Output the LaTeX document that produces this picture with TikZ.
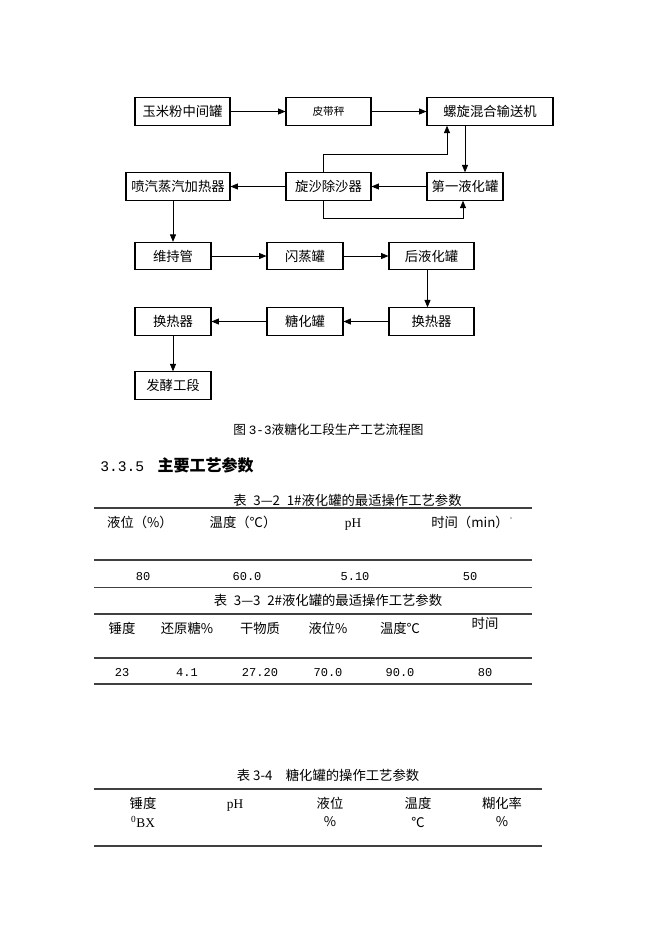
\documentclass[tikz,border=0pt]{standalone}
\usepackage{fontspec}
\setmainfont{Noto Sans CJK SC}
\newfontfamily\monofont{Liberation Mono}
\newfontfamily\seriffont{Liberation Serif}
\usetikzlibrary{arrows.meta,calc}
\begin{document}
\begin{tikzpicture}[x=0.75pt,y=-0.75pt,
	box/.style={draw,line width=0.8pt,minimum height=20.5pt,inner sep=0pt,font=\fontsize{10}{12}\selectfont},
	arr/.style={line width=0.6pt,-{Triangle[length=5.5pt,width=4.5pt]}},
	rule/.style={line width=0.9pt,black!75},
	cell/.style={inner sep=0pt,font=\fontsize{10}{12}\selectfont},
	num/.style={inner sep=0pt,font=\monofont\fontsize{9}{11}\selectfont}]
	\useasboundingbox (0,0) rectangle (662,936);
		\node[box,minimum width=71.25pt] (F11) at (182.5,111.5) {玉米粉中间罐};
		\node[box,minimum width=63.75pt,font=\fontsize{8}{10}\selectfont] (F12) at (328.5,111.5) {皮带秤};
		\node[box,minimum width=94.5pt] (F13) at (490,111.5) {螺旋混合输送机};
		\node[box,minimum width=78pt] (F21) at (178,186.5) {喷汽蒸汽加热器};
		\node[box,minimum width=63.75pt] (F22) at (328.5,186.5) {旋沙除沙器};
		\node[box,minimum width=57pt] (F23) at (465,186.5) {第一液化罐};
		\node[box,minimum width=57pt] (F31) at (173,256) {维持管};
		\node[box,minimum width=57pt] (F32) at (305,256) {闪蒸罐};
		\node[box,minimum width=63.75pt] (F33) at (431.5,256) {后液化罐};
		\node[box,minimum width=57pt] (F41) at (173,321.5) {换热器};
		\node[box,minimum width=57pt] (F42) at (305,321.5) {糖化罐};
		\node[box,minimum width=63.75pt] (F43) at (431.5,321.5) {换热器};
		\node[box,minimum width=57pt] (F51) at (173,385.5) {发酵工段};
		\draw[arr] (F11) -- (F12);
		\draw[arr] (F12) -- (F13);
		\draw[arr] (F23.north |- F13.south) -- (F23.north);
		\draw[arr] (F23) -- (F22);
		\draw[arr] (F22) -- (F21);
		\draw[arr] ($(F22.north)+(-5,0)$) -- ++(0,-18) -| ($(F13.south)+(-43,0)$);
		\draw[arr] ($(F22.south)+(-5,0)$) -- ++(0,18) -| ($(F23.south)+(-2,0)$);
		\draw[arr] (F31.north |- F21.south) -- (F31.north);
		\draw[arr] (F31) -- (F32);
		\draw[arr] (F32) -- (F33);
		\draw[arr] ($(F33.south)+(-4,0)$) -- ($(F43.north)+(-4,0)$);
		\draw[arr] (F43) -- (F42);
		\draw[arr] (F42) -- (F41);
		\draw[arr] (F41) -- (F51);
		\node[inner sep=0pt,font=\fontsize{9.5}{11}\selectfont] (cap1) at (328.5,430) {图 {\monofont 3-3}液糖化工段生产工艺流程图};
		\node[inner sep=0pt,anchor=west] (sec) at (100,465) {{\monofont\fontsize{11}{13}\selectfont 3.3.5}\hspace{10pt}{\fontsize{12}{14}\selectfont\bfseries 主要工艺参数}};
		\node[cell] (cap2) at (347.5,500) {表\enspace 3—2\enspace 1\#液化罐的最适操作工艺参数};
		\node[cell] (cap3) at (328,600) {表\enspace 3—3\enspace 2\#液化罐的最适操作工艺参数};
		\node[cell] (cap4) at (328,775) {表 3-4\enspace\enspace 糖化罐的操作工艺参数};
		\foreach \y in {508,560,587.5,614,658,684}{
			\draw[rule] (94,\y) -- (532,\y);
		}
		\foreach \y in {789,846}{
			\draw[rule] (94,\y) -- (542,\y);
		}
		\foreach \x/\t [count=\j] in {140/液位（\%）,243/温度（℃）,470/时间（min）}{
			\node[cell] (A\j) at (\x,522) {\t};
		}
		\node[cell,font=\seriffont\fontsize{10}{12}\selectfont] (A4) at (353,525) {pH};
		\fill (511,518) circle (0.5pt);
		\foreach \x/\t [count=\j] in {143/80,247/60.0,355/5.10,470/50}{
			\node[num] (B\j) at (\x,577) {\t};
		}
		\foreach \x/\t [count=\j] in {122/锤度,187/还原糖\%,260/干物质,328/液位\%,400/温度℃}{
			\node[cell] (C\j) at (\x,628) {\t};
		}
		\node[cell] (C6) at (485,623) {时间};
		\foreach \x/\t [count=\j] in {122/23,187/4.1,260/27.20,328/70.0,400/90.0,485/80}{
			\node[num] (D\j) at (\x,673) {\t};
		}
		\foreach \x/\t [count=\j] in {143/锤度,330/液位,418/温度,502/糊化率}{
			\node[cell] (E\j) at (\x,803) {\t};
		}
		\node[cell,font=\seriffont\fontsize{10}{12}\selectfont] (E5) at (235,806) {pH};
		\node[cell,font=\seriffont\fontsize{10}{12}\selectfont] (G1) at (143,822) {\textsuperscript{0}BX};
		\foreach \x/\t [count=\j] in {330/\%,418/℃,502/\%}{
			\node[cell] (G\j x) at (\x,822) {\t};
		}
	\end{tikzpicture}
\end{document}
